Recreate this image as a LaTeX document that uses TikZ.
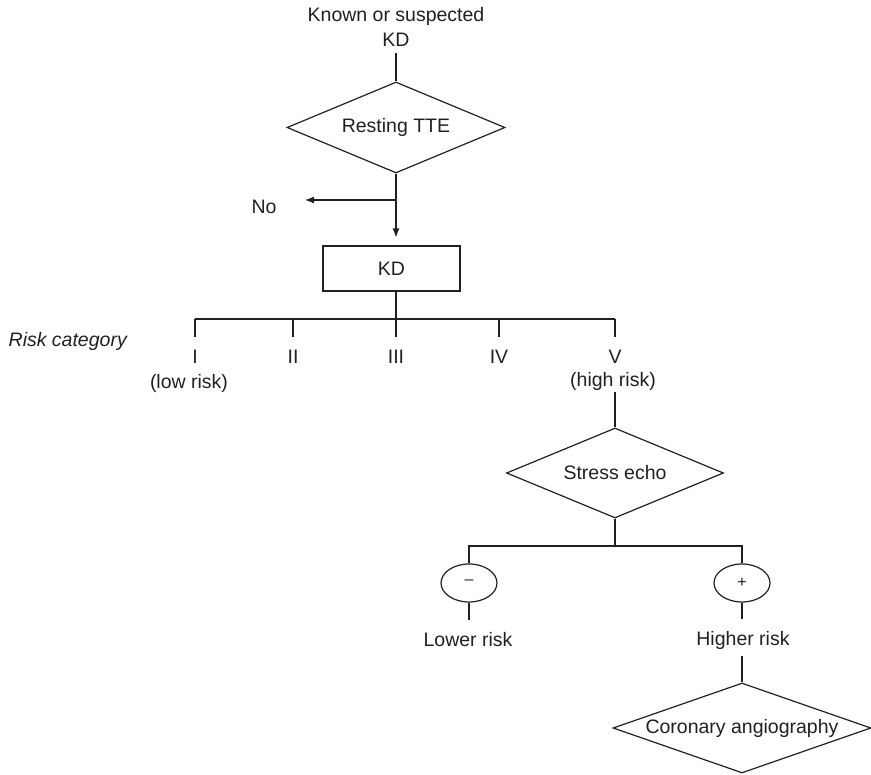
\documentclass[tikz,border=0pt]{standalone}
\usepackage{fontspec}
\setmainfont{Liberation Sans}
\usetikzlibrary{shapes.geometric,arrows.meta}
\definecolor{ink}{HTML}{231F20}
\tikzset{
  lbl/.style={inner sep=0pt, text=ink, font=\fontsize{19.5}{24}\selectfont, anchor=base},
  dmd/.style={diamond, draw=ink, line width=1.2pt, inner sep=0pt, text=ink, font=\fontsize{19.5}{24}\selectfont},
  boxn/.style={rectangle, draw=ink, line width=1.2pt, inner sep=0pt, text=ink, font=\fontsize{19.5}{24}\selectfont},
  ell/.style={ellipse, draw=ink, line width=1.2pt, inner sep=0pt, minimum width=56pt, minimum height=38pt, text=ink, font=\fontsize{16}{18}\selectfont},
  conn/.style={draw=ink, line width=1.2pt},
  arr/.style={conn, -{Latex[length=9pt,width=7pt]}}
}
\begin{document}
\begin{tikzpicture}[x=1pt,y=-1pt]
\useasboundingbox (0,0) rectangle (871,775);
% top text
\node[lbl] (start1) at (396,22) {Known or suspected};
\node[lbl] (start2) at (396,47) {KD};
\coordinate (s0) at (396,53);
\node[dmd, aspect=2.396, minimum width=218pt, minimum height=91pt] (tte) at (396,127.5) {Resting TTE};
\draw[conn] (s0) -- (tte.north);
% No branch
\coordinate (j1) at (396,200);
\coordinate (noend) at (305,200);
\node[lbl] (no) at (264,214) {No};
\draw[conn] (tte.south) -- (j1);
\draw[arr] (j1) -- (noend);
\coordinate (kdin) at (396,237.5);
\draw[arr] (j1) -- (kdin);
% KD box
\node[boxn, minimum width=137pt, minimum height=45pt] (kd) at (391.5,268.5) {KD};
% risk categories
\node[lbl, anchor=base east, font=\fontsize{19.5}{24}\selectfont\itshape] (risk) at (127,347) {Risk category};
\coordinate (kdb) at (396,291);
\coordinate (bar0) at (396,319);
\draw[conn] (kdb) -- (bar0);
\coordinate (t1) at (195,319);
\coordinate (t5) at (615,319);
\draw[conn] (t1) -- (t5);
\node[lbl] (c1) at (195,364) {I};
\node[lbl] (c2) at (293,364) {II};
\node[lbl] (c3) at (396,364) {III};
\node[lbl] (c4) at (499,364) {IV};
\node[lbl] (c5) at (615,364) {V};
\node[lbl] (low) at (189,389) {(low risk)};
\node[lbl] (high) at (613,387) {(high risk)};
\foreach \i/\x in {1/195,2/293,3/396,4/499,5/615}{
  \draw[conn] (\x,319) -- (\x,337);
}
% stress echo
\node[dmd, aspect=2.411, minimum width=217pt, minimum height=90pt] (se) at (615,473) {Stress echo};
\coordinate (hb) at (615,392);
\draw[conn] (hb) -- (se.north);
\coordinate (sb) at (615,546);
\draw[conn] (se.south) -- (sb);
\node[ell] (minus) at (469,583) {\raisebox{1pt}{--}};
\node[ell] (plus) at (742,583) {+};
\draw[conn] (minus.north) |- (sb) -| (plus.north);
\node[lbl] (lower) at (468,646) {Lower risk};
\node[lbl] (higher) at (743,645) {Higher risk};
\coordinate (mb) at (469,620);
\coordinate (pb) at (742,619);
\draw[conn] (minus.south) -- (mb);
\draw[conn] (plus.south) -- (pb);
% coronary angiography
\coordinate (ht) at (742,656);
\node[dmd, aspect=2.867, minimum width=258pt, minimum height=90pt] (ca) at (742,728) {Coronary angiography};
\draw[conn] (ht) -- (ca.north);
\end{tikzpicture}
\end{document}
